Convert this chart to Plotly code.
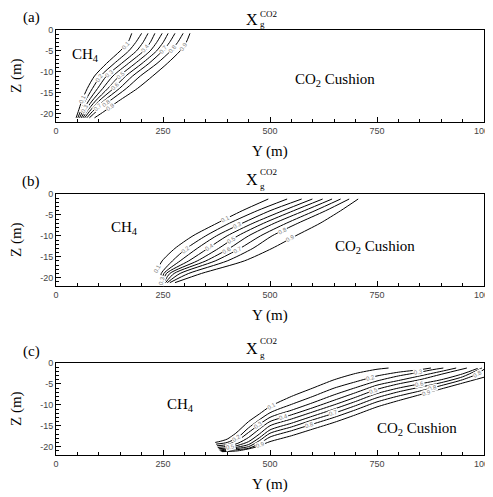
import numpy as np
import plotly.graph_objects as go

W, H = 493, 497          # browser window
OFF = 8                  # default page margin of the html body
FW, FH = W - OFF, H - OFF

LEVELS = ["0.1", "0.2", "0.3", "0.4", "0.5", "0.6", "0.7", "0.8", "0.9"]
PANEL_TAGS = ["(a)", "(b)", "(c)"]
X_TICKS = [0, 250, 500, 750, 1000]
Z_TICKS = [0, -5, -10, -15, -20]

# ---- Panel (a): contour lines, x (m) sampled at depths A_Z ----
A_Z = [-21, -19.5, -17, -14, -11, -8, -5, -3, -0.8]
A_X = [
    [47, 52, 60, 73, 90, 118, 150, 168, 177],
    [51, 57, 68, 85, 104, 136, 170, 186, 200],
    [55, 62, 76, 97, 118, 153, 188, 203, 215],
    [59, 67, 84, 109, 133, 169, 205, 220, 231],
    [63, 72, 92, 121, 148, 185, 220, 235, 248],
    [67, 78, 100, 134, 163, 201, 235, 250, 262],
    [72, 85, 111, 148, 179, 217, 249, 265, 278],
    [78, 94, 125, 164, 197, 236, 268, 284, 297],
    [90, 112, 146, 190, 226, 260, 290, 304, 313],
]
A_LABELS = [(0, -3.5), (3, -4.4), (6, -4.6), (7, -4.5), (8, -4.0),
            (1, -11.5), (2, -10.5), (4, -10.7), (5, -13.5),
            (0, -16.5), (2, -18.8), (6, -18.3), (7, -17.5), (8, -18.4)]

# ---- Panel (b) ----
B_Z = [
    [-18.4, -16, -13, -10, -7, -4, -1.2],
    [-21.2, -19, -16, -13, -10, -7, -4, -1.2],
    [-21.2, -19, -16, -13, -10, -7, -4, -1.2],
    [-21.2, -19, -16, -13, -10, -7, -4, -1.2],
    [-21.2, -19, -16, -13, -10, -7, -4, -1.2],
    [-21.2, -19, -16, -13, -10, -7, -4, -1.2],
    [-21.2, -19, -16, -13, -10, -7, -4, -1.2],
    [-21.2, -19, -16, -13, -10, -7, -4, -1.2],
    [-21.2, -19, -16, -13, -10, -7, -4, -1.2],
]
B_X = [
    [235, 248, 278, 320, 376, 435, 496],
    [243, 246, 272, 305, 350, 405, 470, 540],
    [246, 252, 290, 330, 375, 435, 500, 574],
    [249, 258, 310, 355, 400, 460, 530, 599],
    [252, 266, 330, 380, 425, 485, 555, 623],
    [256, 276, 350, 405, 450, 510, 580, 645],
    [260, 290, 372, 430, 478, 538, 605, 665],
    [266, 310, 400, 460, 505, 565, 630, 685],
    [278, 340, 440, 505, 560, 617, 665, 706],
]
B_LABELS = [(0, -6.0), (1, -13.3), (2, -7.5), (3, -12.7), (4, -11.0),
            (5, -13.3), (6, -13.3), (7, -8.8), (8, -10.6), (0, -17.8), (2, -20.6)]

# ---- Panel (c): depth z sampled along x ----
C_X = [
    [372, 385, 400, 420, 450, 475, 500, 550, 600, 650, 700, 750, 777],
    [374, 400, 425, 450, 500, 550, 600, 650, 700, 750, 800, 850, 876],
    [376, 400, 425, 450, 500, 550, 600, 650, 700, 750, 800, 850, 880, 905],
    [378, 400, 425, 450, 475, 500, 550, 600, 650, 700, 750, 800, 850, 900, 935],
    [380, 400, 425, 450, 475, 500, 550, 600, 650, 700, 750, 800, 850, 900, 960],
    [382, 400, 425, 450, 475, 500, 550, 600, 650, 700, 750, 800, 850, 900, 950, 985],
    [384, 400, 425, 450, 475, 500, 550, 600, 650, 700, 750, 800, 850, 900, 950, 995],
    [386, 425, 450, 475, 500, 550, 600, 650, 700, 750, 800, 850, 900, 950, 985, 1000],
    [388, 425, 460, 475, 500, 550, 600, 650, 700, 750, 800, 850, 900, 950, 1000],
]
C_Z = [
    [-19.0, -18.7, -18.2, -16.8, -14.0, -12.2, -10.4, -8.0, -6.0, -4.0, -2.5, -1.5, -1.2],
    [-19.4, -19.0, -17.8, -15.5, -11.9, -9.9, -8.0, -6.0, -4.5, -3.1, -2.2, -1.6, -1.2],
    [-19.8, -19.5, -18.5, -16.6, -13.0, -11.3, -9.5, -7.6, -5.9, -4.3, -3.1, -2.2, -1.6, -1.2],
    [-20.2, -19.9, -19.2, -17.8, -15.8, -14.0, -12.4, -10.7, -8.9, -7.1, -5.3, -4.2, -3.1, -2.0, -1.2],
    [-20.5, -20.3, -19.7, -18.8, -17.0, -15.0, -13.4, -11.7, -10.0, -8.2, -6.3, -5.0, -4.0, -2.7, -1.2],
    [-20.8, -20.6, -20.1, -19.5, -17.9, -16.0, -14.4, -12.7, -11.0, -9.2, -7.3, -6.0, -5.0, -4.0, -2.6, -1.3],
    [-21.0, -20.8, -20.4, -20.0, -18.6, -16.8, -15.3, -13.6, -12.0, -10.2, -8.3, -6.9, -5.8, -4.7, -3.3, -1.2],
    [-21.1, -20.7, -20.4, -19.3, -17.7, -16.2, -14.6, -13.0, -11.2, -9.3, -7.9, -6.7, -5.4, -4.0, -2.6, -1.5],
    [-21.2, -21.0, -20.3, -19.8, -18.8, -17.4, -15.8, -14.2, -12.4, -10.5, -9.0, -7.6, -6.2, -4.8, -3.4],
]
C_LABELS = [(0, 504), (1, 422), (1, 734), (2, 473), (2, 847), (3, 531),
            (4, 741), (4, 407), (5, 850), (6, 648), (7, 593), (7, 880),
            (8, 477), (8, 866), (7, 985)]

CH4_POS = [(68, -6.0), (161, -8.2), (290, -10.0)]
CUSHION_POS = [(652, -12.0), (745, -12.6), (844, -15.8)]

# ---------------- layout geometry (window pixels) ----------------
LEFT, RIGHT = 56, 484
TOPS = [30, 194, 363]
PH = 92
X_RANGE = [0, 1000]
Z_RANGE = [-22, 0]
KX = (RIGHT - LEFT) / (X_RANGE[1] - X_RANGE[0])
KZ = PH / (Z_RANGE[1] - Z_RANGE[0])
# vertical offsets of the title pieces above each panel (X, superscript, subscript)
TITLE_DY = [(11, 16, 6), (15, 22, 8), (15, 22, 8)]

SERIF = "Liberation Serif, Times New Roman, serif"
SANS = "Liberation Sans, Arial, sans-serif"


def px(x):
    return (x - OFF) / FW


def py(y):
    return 1 - (y - OFF) / FH


fig = go.Figure()
annotations = []


def note(**kw):
    kw.setdefault("showarrow", False)
    kw.setdefault("xanchor", "center")
    kw.setdefault("yanchor", "middle")
    annotations.append(kw)


def angle_of(x0, z0, x1, z1):
    return -np.degrees(np.arctan2((z1 - z0) * KZ, (x1 - x0) * KX))


def label(n, x, z, ang, text):
    ref = "" if n == 1 else str(n)
    note(x=x, y=z, xref="x" + ref, yref="y" + ref, text=text,
         font=dict(family=SANS, size=6, color="#7a7a7a"), bgcolor="white",
         borderpad=0, textangle=ang)


def add_lines(n, xs_list, zs_list):
    ref = "" if n == 1 else str(n)
    for xs, zs in zip(xs_list, zs_list):
        fig.add_trace(go.Scatter(
            x=xs, y=zs, xaxis="x" + ref, yaxis="y" + ref, mode="lines",
            line=dict(color="black", width=1, shape="spline", smoothing=0.7),
            showlegend=False, hoverinfo="skip"))


# panel a
add_lines(1, A_X, [A_Z] * 9)
for i, z in A_LABELS:
    x = np.interp(z, A_Z, A_X[i])
    xa, xb = np.interp(z - 0.6, A_Z, A_X[i]), np.interp(z + 0.6, A_Z, A_X[i])
    label(1, x, z, angle_of(xa, z - 0.6, xb, z + 0.6), LEVELS[i])

# panel b
add_lines(2, B_X, B_Z)
for i, z in B_LABELS:
    x = np.interp(z, B_Z[i], B_X[i])
    xa, xb = np.interp(z - 0.6, B_Z[i], B_X[i]), np.interp(z + 0.6, B_Z[i], B_X[i])
    label(2, x, z, angle_of(xa, z - 0.6, xb, z + 0.6), LEVELS[i])

# panel c
add_lines(3, C_X, C_Z)
for i, x in C_LABELS:
    z = np.interp(x, C_X[i], C_Z[i])
    za, zb = np.interp(x - 10, C_X[i], C_Z[i]), np.interp(x + 10, C_X[i], C_Z[i])
    label(3, x, z, angle_of(x - 10, za, x + 10, zb), LEVELS[i])

layout = dict(
    width=FW, height=FH, margin=dict(l=0, r=0, t=0, b=0, autoexpand=False),
    paper_bgcolor="white", plot_bgcolor="white", showlegend=False,
)

for k in range(3):
    n = k + 1
    sfx = "" if n == 1 else str(n)
    top = TOPS[k]
    bot = top + PH
    layout["xaxis" + sfx] = dict(
        domain=[px(LEFT), px(RIGHT)], range=X_RANGE, anchor="y" + sfx,
        tickvals=X_TICKS, ticktext=[str(v) for v in X_TICKS],
        ticks="inside", ticklen=5, tickwidth=1, tickcolor="black",
        minor=dict(ticks="inside", ticklen=3, dtick=50, tick0=0, tickcolor="black"),
        showline=True, linecolor="black", linewidth=1, mirror=True,
        showgrid=False, zeroline=False, automargin=False,
        ticklabeloverflow="allow",
        tickfont=dict(family=SANS, size=9, color="#444"))
    layout["yaxis" + sfx] = dict(
        domain=[py(bot), py(top)], range=Z_RANGE, anchor="x" + sfx,
        tickvals=Z_TICKS, ticktext=[str(v) for v in Z_TICKS],
        ticks="inside", ticklen=5, tickwidth=1, tickcolor="black",
        minor=dict(ticks="inside", ticklen=3, dtick=1, tick0=0, tickcolor="black"),
        showline=True, linecolor="black", linewidth=1, mirror=True,
        showgrid=False, zeroline=False, automargin=False,
        tickfont=dict(family=SANS, size=9, color="#444"))

    mid = (top + bot) / 2
    dx_, dsup, dsub = TITLE_DY[k]
    note(x=px(31), y=py(top - 12), xref="paper", yref="paper", text=PANEL_TAGS[k],
         font=dict(family=SERIF, size=15, color="black"))
    note(x=px(252), y=py(top - dx_), xref="paper", yref="paper", text="X", borderpad=0,
         font=dict(family=SERIF, size=16, color="black"))
    note(x=px(268), y=py(top - dsup), xref="paper", yref="paper", text="CO2", borderpad=0,
         font=dict(family=SERIF, size=9, color="black"))
    note(x=px(262), y=py(top - dsub), xref="paper", yref="paper", text="g", borderpad=0,
         font=dict(family=SERIF, size=9, color="black"))
    note(x=px(16), y=py(mid), xref="paper", yref="paper", text="Z (m)",
         textangle=-90, font=dict(family=SERIF, size=15, color="black"))
    note(x=px(270), y=py(bot + 29), xref="paper", yref="paper", text="Y (m)",
         font=dict(family=SERIF, size=15, color="black"))
    note(x=CH4_POS[k][0], y=CH4_POS[k][1], xref="x" + sfx, yref="y" + sfx,
         text="CH<sub>4</sub>", font=dict(family=SERIF, size=15, color="black"))
    note(x=CUSHION_POS[k][0], y=CUSHION_POS[k][1], xref="x" + sfx, yref="y" + sfx,
         text="CO<sub>2</sub> Cushion", font=dict(family=SERIF, size=15, color="black"))

layout["annotations"] = annotations
fig.update_layout(**layout)
fig.write_html("out.html", config={"displayModeBar": False})
